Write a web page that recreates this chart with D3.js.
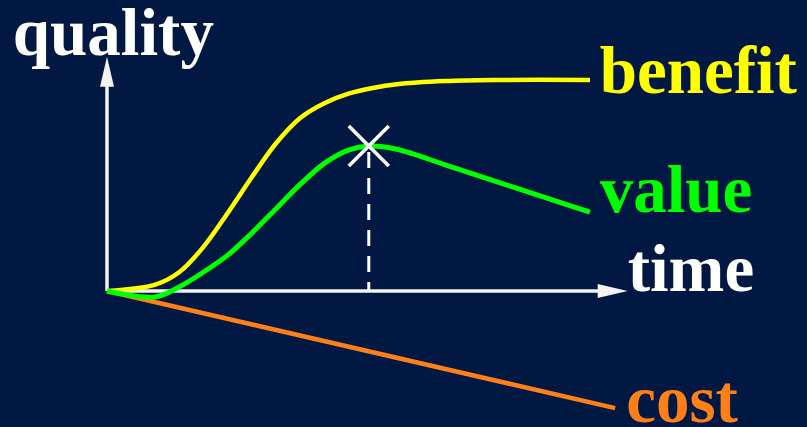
<!DOCTYPE html>
<html>
<head>
<meta charset="utf-8">
<script src="https://cdn.jsdelivr.net/npm/d3@7"></script>
<style>
  html, body { margin: 0; padding: 0; background: #011842; }
  svg { display: block; }
</style>
</head>
<body>
<script>
// time grid and quality values (quality 0 = time axis, 1 = benefit plateau)
const benefitTime = [0, 1, 1.5, 2, 2.5, 3, 3.5, 4, 4.5, 5, 5.5, 6, 7, 8, 10]
const benefitQuality = [0, 0.03, 0.09, 0.21, 0.37, 0.54, 0.70, 0.82, 0.89, 0.935, 0.962, 0.98, 0.995, 1, 1]

const valueTime = [0, 1, 1.5, 2, 2.5, 3, 3.5, 4, 4.5, 5, 5.42, 6, 7, 8, 9, 10]
const valueQuality = [0, -0.028, 0.02, 0.09, 0.17, 0.275, 0.39, 0.505, 0.605, 0.668, 0.687, 0.672, 0.598, 0.523, 0.448, 0.374]

const costTime = [0, 10.52]
const costQuality = [0, -0.555]

// optimum: the peak of the value curve
const optimum = { time: 5.42, quality: 0.687 }

// axis extents (arrow tips)
const timeAxisEnd = 10.78
const qualityAxisEnd = 1.11

const labels = [
  { text: 'quality', time: -1.95, quality: 1.117, color: '#ffffff' },
  { text: 'benefit', time: 10.2, quality: 0.938, color: '#ffff00' },
  { text: 'value', time: 10.2, quality: 0.374, color: '#00ff00' },
  { text: 'time', time: 10.78, quality: 0, color: '#ffffff' },
  { text: 'cost', time: 10.75, quality: -0.62, color: '#ff8019' }
]

const width = 807, height = 427

const svg = d3.select('body').append('svg')
  .attr('width', width)
  .attr('height', height)

svg.append('rect')
  .attr('width', width)
  .attr('height', height)
  .attr('fill', '#011842')

const x = d3.scaleLinear().domain([0, 10]).range([107, 590])
const y = d3.scaleLinear().domain([0, 1]).range([291, 80])

const line = d3.line()
  .x(d => x(d[0]))
  .y(d => y(d[1]))
  .curve(d3.curveCatmullRom.alpha(0.5))

// axes with arrowheads
const arrowLen = 30, arrowHalf = 7
const ox = x(0), oy = y(0)
const xTip = x(timeAxisEnd), yTip = y(qualityAxisEnd)

const axes = svg.append('g').attr('fill', '#f4f4f4').attr('stroke', '#f4f4f4')
axes.append('line')
  .attr('x1', ox).attr('y1', oy)
  .attr('x2', xTip - arrowLen + 2).attr('y2', oy)
  .attr('stroke-width', 3.5)
axes.append('line')
  .attr('x1', ox).attr('y1', oy)
  .attr('x2', ox).attr('y2', yTip + arrowLen - 2)
  .attr('stroke-width', 3.5)
axes.append('path')
  .attr('stroke', 'none')
  .attr('d', `M${xTip},${oy} L${xTip - arrowLen},${oy - arrowHalf} L${xTip - arrowLen},${oy + arrowHalf} Z`)
axes.append('path')
  .attr('stroke', 'none')
  .attr('d', `M${ox},${yTip} L${ox - arrowHalf},${yTip + arrowLen} L${ox + arrowHalf},${yTip + arrowLen} Z`)

// dashed drop line from the optimum
svg.append('line')
  .attr('x1', x(optimum.time)).attr('y1', y(optimum.quality))
  .attr('x2', x(optimum.time)).attr('y2', oy)
  .attr('stroke', '#ffffff')
  .attr('stroke-width', 3)
  .attr('stroke-dasharray', '16,10')
  .attr('stroke-dashoffset', -6)

// curves
svg.append('path')
  .attr('d', line(d3.zip(costTime, costQuality)))
  .attr('fill', 'none')
  .attr('stroke', '#ff8019')
  .attr('stroke-width', 4.5)

svg.append('path')
  .attr('d', line(d3.zip(benefitTime, benefitQuality)))
  .attr('fill', 'none')
  .attr('stroke', '#ffff00')
  .attr('stroke-width', 4.5)

svg.append('path')
  .attr('d', line(d3.zip(valueTime, valueQuality)))
  .attr('fill', 'none')
  .attr('stroke', '#00ff00')
  .attr('stroke-width', 5)

// optimum cross
const cx = x(optimum.time), cy = y(optimum.quality), r = 20
svg.append('path')
  .attr('d', `M${cx - r},${cy - r} L${cx + r},${cy + r} M${cx - r},${cy + r} L${cx + r},${cy - r}`)
  .attr('stroke', '#ffffff')
  .attr('stroke-width', 3.5)

// labels
svg.selectAll('text.label')
  .data(labels)
  .join('text')
  .attr('class', 'label')
  .attr('x', d => x(d.time))
  .attr('y', d => y(d.quality))
  .attr('fill', d => d.color)
  .attr('font-family', '"Liberation Serif", "Times New Roman", serif')
  .attr('font-weight', 'bold')
  .attr('font-size', 67)
  .text(d => d.text)
</script>
</body>
</html>
